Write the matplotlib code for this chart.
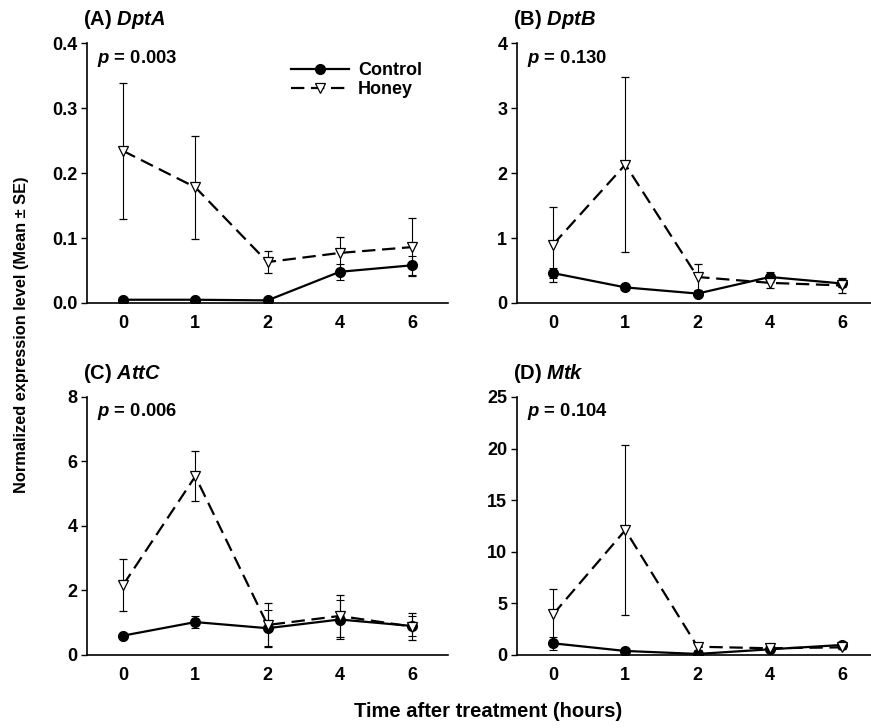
import matplotlib
matplotlib.use("Agg")
import matplotlib.pyplot as plt
from matplotlib.lines import Line2D

plt.rcParams["font.family"] = ["Liberation Sans", "DejaVu Sans"]
plt.rcParams["font.weight"] = "bold"
plt.rcParams["mathtext.fontset"] = "custom"
plt.rcParams["mathtext.bfit"] = "Liberation Sans:bold:italic"
plt.rcParams["mathtext.it"] = "Liberation Sans:italic"
plt.rcParams["mathtext.bf"] = "Liberation Sans:bold"

# time points (hours), plotted as equally spaced categories
hours = ["0", "1", "2", "4", "6"]

panels = ["(A)", "(B)", "(C)", "(D)"]
genes = ["DptA", "DptB", "AttC", "Mtk"]
p_values = ["0.003", "0.130", "0.006", "0.104"]

# mean and SE for each gene
control_mean = [
    [0.005, 0.005, 0.004, 0.048, 0.058],
    [0.46, 0.24, 0.145, 0.40, 0.30],
    [0.60, 1.02, 0.83, 1.10, 0.90],
    [1.13, 0.39, 0.10, 0.55, 0.97],
]
control_se = [
    [0.002, 0.002, 0.002, 0.012, 0.015],
    [0.08, 0.03, 0.03, 0.07, 0.06],
    [0.05, 0.18, 0.55, 0.60, 0.30],
    [0.60, 0.10, 0.05, 0.10, 0.20],
]
honey_mean = [
    [0.234, 0.178, 0.063, 0.077, 0.086],
    [0.90, 2.13, 0.40, 0.31, 0.27],
    [2.17, 5.54, 0.93, 1.21, 0.88],
    [3.94, 12.1, 0.80, 0.65, 0.74],
]
honey_se = [
    [0.104, 0.079, 0.017, 0.025, 0.045],
    [0.57, 1.34, 0.20, 0.08, 0.11],
    [0.82, 0.78, 0.67, 0.65, 0.43],
    [2.45, 8.25, 0.30, 0.15, 0.20],
]

y_max = [0.4, 4, 8, 25]
y_step = [0.1, 1, 2, 5]
y_fmt = ["{:.1f}", "{:.0f}", "{:.0f}", "{:.0f}"]

fig = plt.figure(figsize=(8.71, 7.28), dpi=100)

# axes boxes in figure fractions (left, bottom, width, height)
boxes = [
    (0.0999, 0.5838, 0.4145, 0.3571),
    (0.5936, 0.5838, 0.4145, 0.3571),
    (0.0999, 0.1003, 0.4145, 0.3544),
    (0.5936, 0.1003, 0.4145, 0.3544),
]

x = list(range(len(hours)))
dash = (6, 3)

for i in range(4):
    ax = fig.add_axes(boxes[i])
    ax.errorbar(x, honey_mean[i], yerr=honey_se[i], color="black", lw=1.6,
                dashes=dash, marker="v", markersize=7.5, mfc="white",
                mec="black", mew=0.9, ecolor="black", elinewidth=0.8,
                capsize=3, capthick=0.8, zorder=3)
    ax.errorbar(x, control_mean[i], yerr=control_se[i], color="black", lw=1.6,
                marker="o", markersize=7, mfc="black", mec="black",
                ecolor="black", elinewidth=0.8, capsize=3, capthick=0.8,
                zorder=2)

    ax.set_xlim(-0.5, 4.5)
    ax.set_ylim(0, y_max[i])
    ticks = [k * y_step[i] for k in range(int(round(y_max[i] / y_step[i])) + 1)]
    ax.set_yticks(ticks)
    ax.set_yticklabels([y_fmt[i].format(t) for t in ticks])
    ax.set_xticks(x)
    ax.set_xticklabels(hours)

    for side in ["top", "right"]:
        ax.spines[side].set_visible(False)
    ax.spines["left"].set_linewidth(1.2)
    ax.spines["bottom"].set_linewidth(1.2)
    ax.tick_params(axis="y", direction="out", length=4, width=1.0, labelsize=13, pad=3)
    ax.tick_params(axis="x", length=0, labelsize=13, pad=9)
    for lbl in ax.get_xticklabels() + ax.get_yticklabels():
        lbl.set_fontweight("bold")

    ax.text(-0.011, 1.07, panels[i] + r" $\mathbfit{" + genes[i] + "}$",
            transform=ax.transAxes, fontsize=14.5, fontweight="bold",
            ha="left", va="baseline")
    ax.text(0.028, 0.942, r"$\mathbfit{p}$ = " + p_values[i],
            transform=ax.transAxes, fontsize=13.3, fontweight="bold",
            ha="left", va="center")

    if i == 0:
        handles = [
            Line2D([], [], color="black", lw=1.6, marker="o", markersize=7,
                   mfc="black"),
            Line2D([], [], color="black", lw=1.6, dashes=dash, marker="v",
                   markersize=7.5, mfc="white", mew=0.9),
        ]
        ax.legend(handles, ["Control", "Honey"], loc="upper left",
                  bbox_to_anchor=(0.52, 0.99), frameon=False,
                  handlelength=3.2, handletextpad=0.5, labelspacing=0.12,
                  prop={"weight": "bold", "size": 13})

fig.text(0.025, 0.54, "Normalized expression level (Mean \u00b1 SE)",
         rotation=90, ha="center", va="center", fontsize=11.8, fontweight="bold")
fig.text(0.56, 0.022, "Time after treatment (hours)",
         ha="center", va="center", fontsize=14.5, fontweight="bold")

fig.savefig("out.png", dpi=100)
